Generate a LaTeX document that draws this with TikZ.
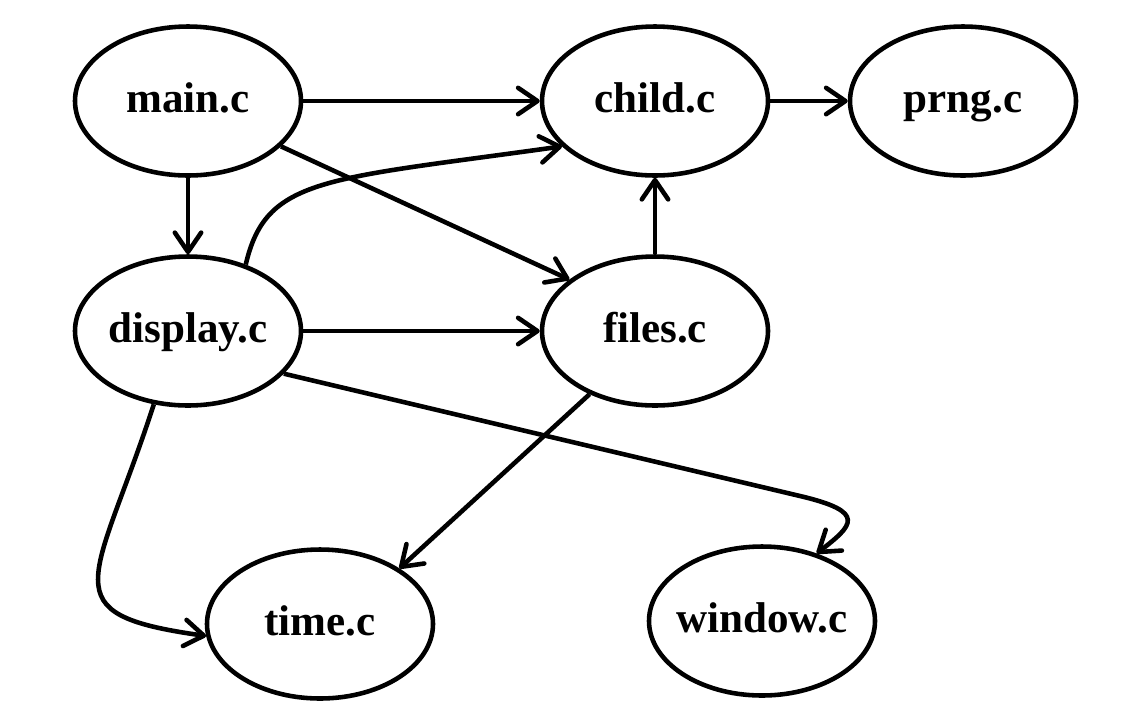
\documentclass[tikz,border=0pt]{standalone}
\usepackage{fontspec}
\setmainfont{Liberation Serif}
\usepackage{tikz}
\usetikzlibrary{positioning,arrows.meta,shapes.geometric}

\begin{document}
\begin{tikzpicture} [auto, on grid, line width=2.6pt,
                    >={Straight Barb[length=11pt,width=15pt,round]},
                    cfile/.style={ellipse,draw,minimum width=4.52cm,minimum height=2.98cm,
                                  inner sep=0pt,text height=0.64cm,text depth=0.2cm,
                                  font=\fontsize{24.5}{28}\selectfont\bfseries}]

\useasboundingbox (0,0) rectangle (22.84,-14.54);

\node[cfile] (main) at (3.76,-2.02) {main.c};
\node[cfile] (child) [right=9.34cm of main] {child.c};
\node[cfile] (prng) [right=6.16cm of child] {prng.c};
\node[cfile] (display) [below=4.6cm of main] {display.c};
\node[cfile] (files) [below=4.6cm of child] {files.c};
\node[cfile] (time) [below right=5.86cm and 2.64cm of display] {time.c};
\node[cfile] (window) [below right=5.8cm and 2.14cm of files] {\makebox[3cm]{window.c}};
\coordinate (wbend) at (16,-9.92);

 \path[->]
    (main) edge (child)
    (child) edge (prng)
    (main) edge (display)
    (main.-26) edge (files.149)
    (files) edge (child)
    (display) edge (files)
    (files.224) edge (time.35)
    (display.49) edge[out=77,in=188,out distance=1.8cm,in distance=4.8cm] (child.206)
    (display.245) edge[out=252,in=172,out distance=3.79cm,in distance=3.2cm] (time.186);
 \draw[->] (display.-24) -- (wbend) .. controls +(1.36,-0.32) and +(0.72,0.56) .. (window.51);
\end{tikzpicture}
\end{document}
